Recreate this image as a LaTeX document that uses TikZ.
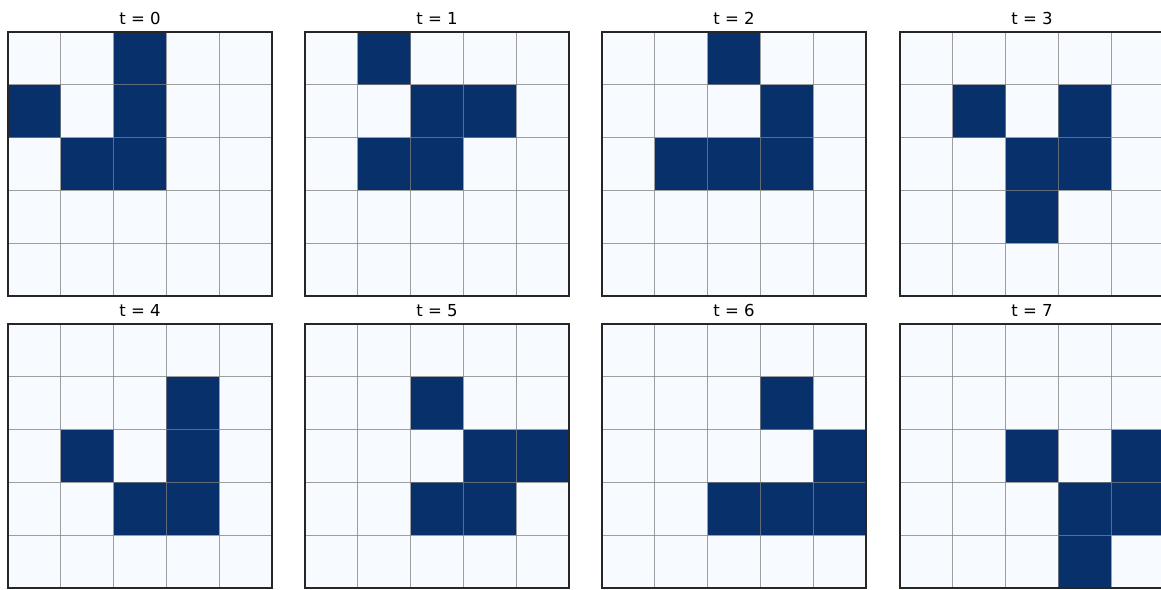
\documentclass[tikz,border=0pt]{standalone}
\usepackage{fontspec}
\setmainfont{DejaVu Sans}
\definecolor{alive}{HTML}{08306B}
\definecolor{dead}{HTML}{F7FBFF}
\tikzset{
  cellbg/.style={fill=dead},
  livecell/.style={fill=alive},
  gridline/.style={draw=gray,draw opacity=0.75,line width=0.9pt},
  frame/.style={draw=black!85,line width=1.2pt},
  paneltitle/.style={font=\fontsize{16.5}{20}\selectfont,anchor=base}
}
\begin{document}
\begin{tikzpicture}[x=1pt,y=-1pt]
  \useasboundingbox (0,0) rectangle (1161,589);
  \clip (0,0) rectangle (1161,589);
  % one panel per generation: step / left / top / live cells (row/col)
  \foreach \t/\px/\py/\cells in {
      0/8/32/{0/2,1/0,1/2,2/1,2/2},
      1/305/32/{0/1,1/2,1/3,2/1,2/2},
      2/602/32/{0/2,1/3,2/1,2/2,2/3},
      3/900/32/{1/1,1/3,2/2,2/3,3/2},
      4/8/324/{1/3,2/1,2/3,3/2,3/3},
      5/305/324/{1/2,2/3,2/4,3/2,3/3},
      6/602/324/{1/3,2/4,3/2,3/3,3/4},
      7/900/324/{2/2,2/4,3/3,3/4,4/3}} {
    \fill[cellbg] (\px,\py) rectangle ++(264,264);
    \foreach \r/\c in \cells
      \fill[livecell] (\px+\c*52.8,\py+\r*52.8) rectangle ++(52.8,52.8);
    \foreach \k in {1,...,4} {
      \draw[gridline] (\px+\k*52.8,\py) -- ++(0,264);
      \draw[gridline] (\px,\py+\k*52.8) -- ++(264,0);
    }
    \draw[frame] (\px,\py) rectangle ++(264,264);
    \node[paneltitle] (title\t) at (\px+132,\py-8) {t = \t};
  }
\end{tikzpicture}
\end{document}
